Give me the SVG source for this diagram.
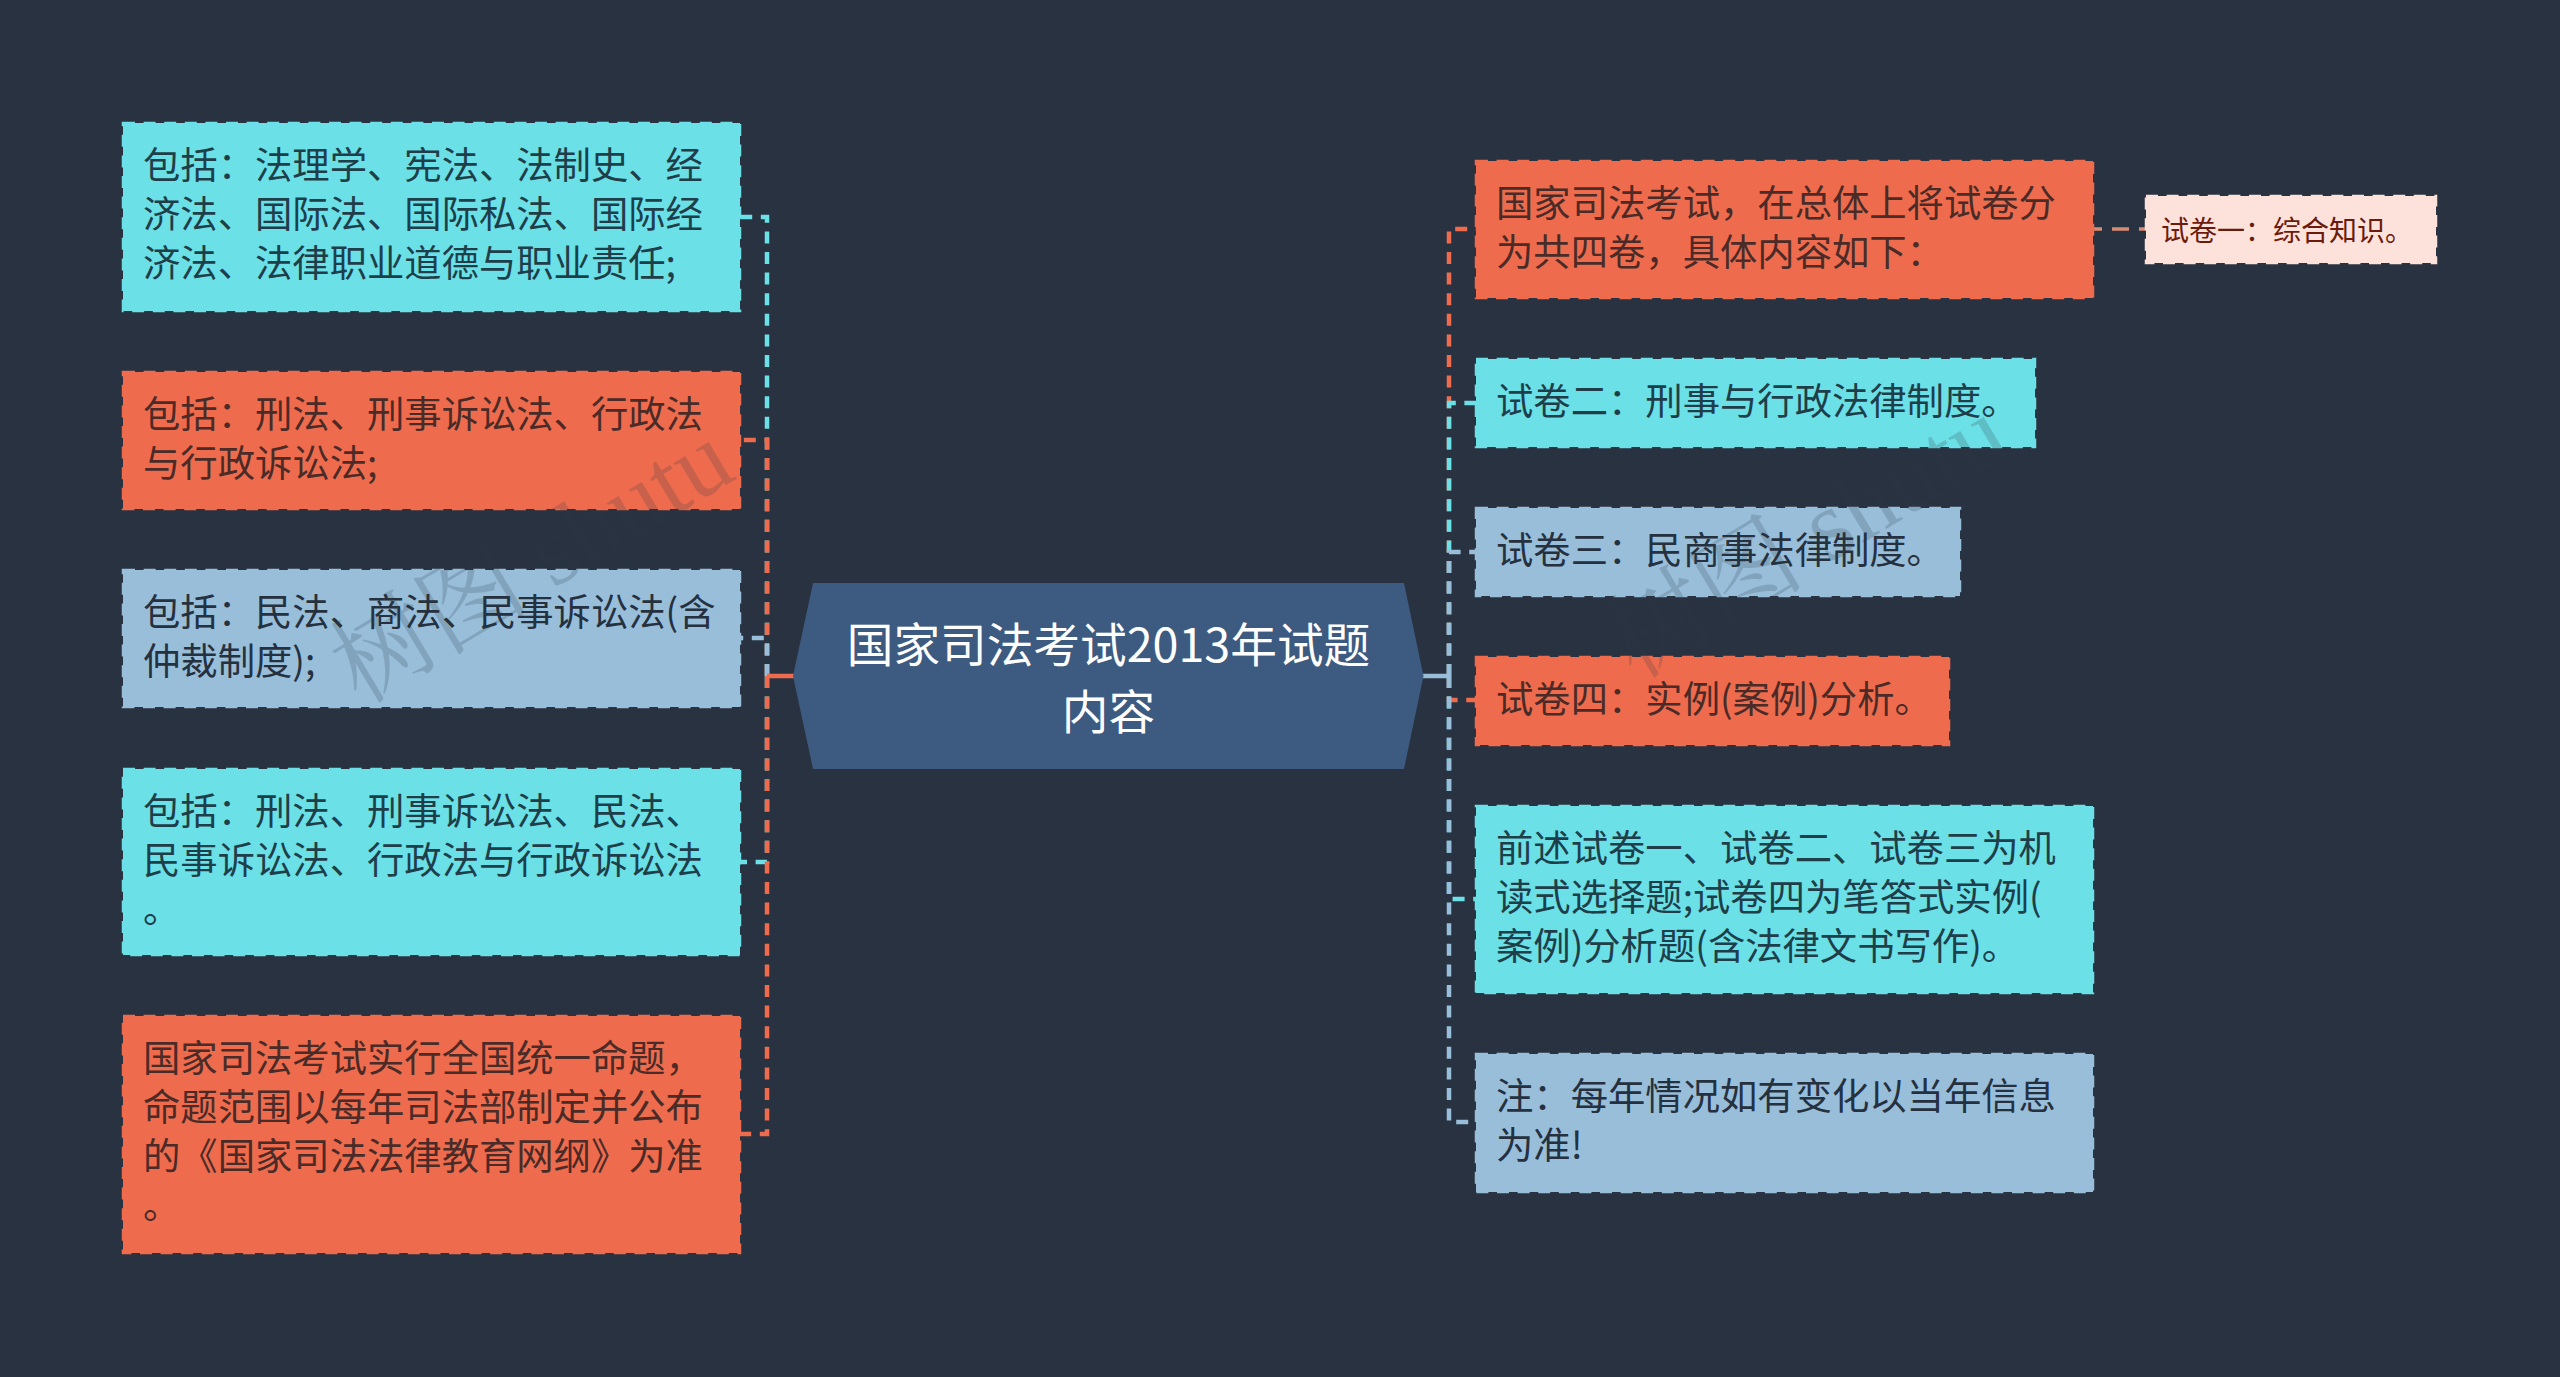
<svg xmlns="http://www.w3.org/2000/svg" width="2560" height="1377" viewBox="0 0 2560 1377">
<style>
text{font-family:"Noto Sans CJK SC","Liberation Sans",sans-serif;font-size:37.33px}
.box{stroke-width:2.5;stroke-dasharray:12 8.6}
.cy{fill:#6BE0E6;stroke:#6BE0E6}.cy+text,.cy~text{fill:#1E3F4A}
.or{fill:#EE6C4D;stroke:#EE6C4D}.or~text{fill:#4A2B28}
.bl{fill:#98BEDA;stroke:#98BEDA}.bl~text{fill:#25313F}
.pk{fill:#FDE2DB;stroke:#FDE2DB}.pk~text{fill:#6B1A0C;font-size:28px}
.c{fill:none;stroke-width:4.5;stroke-dasharray:12 8.6}
.s{fill:none;stroke-width:4.5}
.wm{font-family:"Liberation Serif","Noto Serif CJK SC","Noto Sans CJK SC",serif;font-size:100px;fill:#303A48;opacity:.2}
</style>
<rect width="2560" height="1377" fill="#293241"/>
<g id="connectors">
<path class="c" stroke="#6BE0E6" d="M767 676V217H740"/>
<path class="c" stroke="#EE6C4D" d="M767 676V440H740"/>
<path class="c" stroke="#98BEDA" d="M767 676V638H740"/>
<path class="c" stroke="#6BE0E6" d="M767 676V862H740"/>
<path class="c" stroke="#EE6C4D" d="M767 676V1134H740"/>
<path class="s" stroke="#EE6C4D" d="M795 676H767"/>
<path class="c" stroke="#EE6C4D" d="M1449 676V229H1476"/>
<path class="c" stroke="#6BE0E6" d="M1449 676V403H1476"/>
<path class="c" stroke="#98BEDA" d="M1449 676V552H1476"/>
<path class="c" stroke="#EE6C4D" d="M1449 676V700H1476"/>
<path class="c" stroke="#6BE0E6" d="M1449 676V899H1476"/>
<path class="c" stroke="#98BEDA" d="M1449 676V1122H1476"/>
<path class="s" stroke="#98BEDA" d="M1421 676H1449"/>
<path fill="none" stroke="#D88A72" stroke-width="3.5" stroke-dasharray="17 10" stroke-dashoffset="8" d="M2093 229H2146"/>
</g>
<g id="root">
<polygon points="813,583 1404,583 1423.5,676 1404,769 813,769 793,676" fill="#3D5A80"/>
<text x="1108.5" y="662" text-anchor="middle" fill="#fff" style="font-size:46.67px">国家司法考试2013年试题</text>
<text x="1108.5" y="729" text-anchor="middle" fill="#fff" style="font-size:46.67px">内容</text>
</g>
<g id="L1"><rect class="box cy" x="123" y="123" width="617" height="188"/>
<text x="143" y="179">包括：法理学、宪法、法制史、经</text><text x="143" y="228">济法、国际法、国际私法、国际经</text><text x="143" y="277">济法、法律职业道德与职业责任;</text></g>
<g id="L2"><rect class="box or" x="123" y="372" width="617" height="137"/>
<text x="143" y="428">包括：刑法、刑事诉讼法、行政法</text><text x="143" y="477">与行政诉讼法;</text></g>
<g id="L3"><rect class="box bl" x="123" y="570" width="617" height="137"/>
<text x="143" y="626">包括：民法、商法、民事诉讼法(含</text><text x="143" y="675">仲裁制度);</text></g>
<g id="L4"><rect class="box cy" x="123" y="769" width="617" height="186"/>
<text x="143" y="825">包括：刑法、刑事诉讼法、民法、</text><text x="143" y="874">民事诉讼法、行政法与行政诉讼法</text><text x="143" y="923">。</text></g>
<g id="L5"><rect class="box or" x="123" y="1016" width="617" height="237"/>
<text x="143" y="1072">国家司法考试实行全国统一命题，</text><text x="143" y="1121">命题范围以每年司法部制定并公布</text><text x="143" y="1170">的《国家司法法律教育网纲》为准</text><text x="143" y="1219">。</text></g>
<g id="R1"><rect class="box or" x="1476" y="161" width="617" height="137"/>
<text x="1496" y="217">国家司法考试，在总体上将试卷分</text><text x="1496" y="266">为共四卷，具体内容如下：</text></g>
<g id="R1a"><rect class="box pk" x="2146" y="196" width="290" height="67"/>
<text x="2161" y="241">试卷一：综合知识。</text></g>
<g id="R2"><rect class="box cy" x="1476" y="359" width="559" height="88"/>
<text x="1496" y="415">试卷二：刑事与行政法律制度。</text></g>
<g id="R3"><rect class="box bl" x="1476" y="508" width="484" height="88"/>
<text x="1496" y="564">试卷三：民商事法律制度。</text></g>
<g id="R4"><rect class="box or" x="1476" y="657" width="473" height="88"/>
<text x="1496" y="713">试卷四：实例(案例)分析。</text></g>
<g id="R5"><rect class="box cy" x="1476" y="806" width="617" height="187"/>
<text x="1496" y="862">前述试卷一、试卷二、试卷三为机</text><text x="1496" y="911">读式选择题;试卷四为笔答式实例(</text><text x="1496" y="960">案例)分析题(含法律文书写作)。</text></g>
<g id="R6"><rect class="box bl" x="1476" y="1054" width="617" height="138"/>
<text x="1496" y="1110">注：每年情况如有变化以当年信息</text><text x="1496" y="1159">为准!</text></g>
<text class="wm" transform="translate(360 705) rotate(-31)">树图 shutu</text>
<text class="wm" transform="translate(1635 680) rotate(-31)">树图 shutu</text>
</svg>
